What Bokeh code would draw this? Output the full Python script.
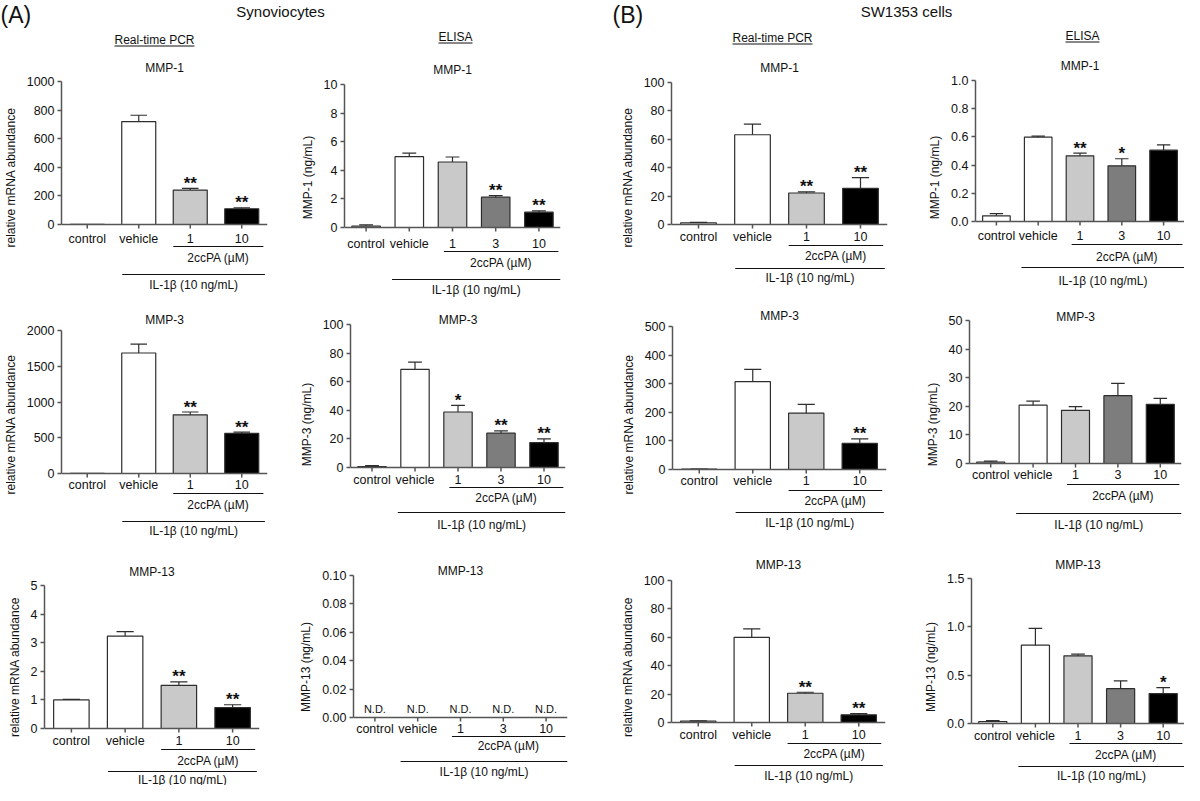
import numpy as np
from bokeh.plotting import figure
from bokeh.layouts import column, row
from bokeh.models import Range1d, FixedTicker, PrintfTickFormatter, ColumnDataSource
from bokeh.core.properties import value
from bokeh.embed import file_html
from bokeh.resources import INLINE

# ---------------- data ----------------
pcr_categories = ["control", "vehicle", "1", "10"]
elisa_categories = ["control", "vehicle", "1", "3", "10"]

# Synoviocytes, real-time PCR (relative mRNA abundance)
syn_pcr_mmp1_mean = [1, 720, 241, 110]
syn_pcr_mmp1_err = [0, 44, 11, 7]
syn_pcr_mmp1_sig = ["", "", "**", "**"]
syn_pcr_mmp3_mean = [1, 1685, 820, 562]
syn_pcr_mmp3_err = [0, 125, 40, 18]
syn_pcr_mmp3_sig = ["", "", "**", "**"]
syn_pcr_mmp13_mean = [1.0, 3.23, 1.51, 0.73]
syn_pcr_mmp13_err = [0.02, 0.16, 0.12, 0.10]
syn_pcr_mmp13_sig = ["", "", "**", "**"]

# Synoviocytes, ELISA (ng/mL)
syn_elisa_mmp1_mean = [0.1, 4.95, 4.58, 2.12, 1.07]
syn_elisa_mmp1_err = [0.08, 0.25, 0.35, 0.11, 0.09]
syn_elisa_mmp1_sig = ["", "", "", "**", "**"]
syn_elisa_mmp3_mean = [0.7, 68.6, 38.8, 24.0, 17.4]
syn_elisa_mmp3_err = [0.6, 5.1, 4.7, 1.6, 2.6]
syn_elisa_mmp3_sig = ["", "", "*", "**", "**"]
syn_elisa_mmp13_mean = [np.nan, np.nan, np.nan, np.nan, np.nan]
syn_elisa_mmp13_err = [np.nan, np.nan, np.nan, np.nan, np.nan]
syn_elisa_mmp13_sig = ["", "", "", "", ""]
syn_elisa_mmp13_note = ["N.D.", "N.D.", "N.D.", "N.D.", "N.D."]

# SW1353 cells, real-time PCR
sw_pcr_mmp1_mean = [1.2, 63.2, 22.2, 25.5]
sw_pcr_mmp1_err = [0.3, 7.5, 0.8, 7.5]
sw_pcr_mmp1_sig = ["", "", "**", "**"]
sw_pcr_mmp3_mean = [1, 307, 197, 91]
sw_pcr_mmp3_err = [0.5, 43, 31, 16]
sw_pcr_mmp3_sig = ["", "", "", "**"]
sw_pcr_mmp13_mean = [1, 60, 20.6, 5.4]
sw_pcr_mmp13_err = [0.2, 6, 0.7, 0.9]
sw_pcr_mmp13_sig = ["", "", "**", "**"]

# SW1353 cells, ELISA
sw_elisa_mmp1_mean = [0.04, 0.598, 0.466, 0.395, 0.506]
sw_elisa_mmp1_err = [0.016, 0.007, 0.019, 0.05, 0.038]
sw_elisa_mmp1_sig = ["", "", "**", "*", ""]
sw_elisa_mmp3_mean = [0.5, 20.4, 18.6, 23.7, 20.7]
sw_elisa_mmp3_err = [0.3, 1.4, 1.3, 4.3, 2.1]
sw_elisa_mmp3_sig = ["", "", "", "", ""]
sw_elisa_mmp13_mean = [0.02, 0.81, 0.70, 0.36, 0.31]
sw_elisa_mmp13_err = [0.01, 0.175, 0.017, 0.08, 0.062]
sw_elisa_mmp13_sig = ["", "", "", "", "*"]

# y tick labels
ticks_syn_pcr_mmp1 = [0, 200, 400, 600, 800, 1000]
ticks_syn_pcr_mmp3 = [0, 500, 1000, 1500, 2000]
ticks_syn_pcr_mmp13 = [0, 1, 2, 3, 4, 5]
ticks_syn_elisa_mmp1 = [0, 2, 4, 6, 8, 10]
ticks_syn_elisa_mmp3 = [0, 20, 40, 60, 80, 100]
ticks_syn_elisa_mmp13 = [0, 0.02, 0.04, 0.06, 0.08, 0.10]
ticks_sw_pcr_mmp1 = [0, 20, 40, 60, 80, 100]
ticks_sw_pcr_mmp3 = [0, 100, 200, 300, 400, 500]
ticks_sw_pcr_mmp13 = [0, 20, 40, 60, 80, 100]
ticks_sw_elisa_mmp1 = [0, 0.2, 0.4, 0.6, 0.8, 1.0]
ticks_sw_elisa_mmp3 = [0, 10, 20, 30, 40, 50]
ticks_sw_elisa_mmp13 = [0, 0.5, 1.0, 1.5]

panel_letters = ["(A)", "(B)"]
cell_types = ["Synoviocytes", "SW1353 cells"]
methods = ["Real-time PCR", "ELISA"]
drug_label = "2ccPA (µM)"
stim_label = "IL-1β (10 ng/mL)"

# ---------------- style / layout ----------------
FONT = "Liberation Sans"
INK = "#111111"
AX = "#555555"
EDGE = "#2e2e2e"
BAR_COLORS = {"control": "#ffffff", "vehicle": "#ffffff", "1": "#c9c9c9",
              "3": "#7d7d7d", "10": "#000000"}
GROUP_OFF = {"pcr": ((-0.33, 0.42), (-0.32, 0.45)),
             "elisa": ((-0.2, 0.45), (-0.4, 0.5))}

COLS = [(8, 300), (300, 600), (600, 900), (900, 1192)]
ROWS = [(62, 308), (308, 556), (556, 793)]

G = {
    "A1r1": dict(axis=61, end=275, ytop=89, y0=232, title=75, tick=246, l2=254, t2=265, l3=282, t3=292),
    "A1r2": dict(axis=60, end=275, ytop=338, y0=481, title=327, tick=492, l2=501, t2=512, l3=529, t3=538),
    "A1r3": dict(axis=52, end=267, ytop=593, y0=736, title=579, tick=748, l2=757, t2=768, l3=779, t3=787),
    "A2r1": dict(axis=352, end=568, ytop=92, y0=235, title=77, tick=251, l2=259, t2=270, l3=287, t3=297),
    "A2r2": dict(axis=358, end=573, ytop=332, y0=475, title=327, tick=487, l2=495, t2=505, l3=520, t3=532),
    "A2r3": dict(axis=361, end=575, ytop=583, y0=725, title=578, tick=736, l2=744, t2=753, l3=769, t3=779),
    "B1r1": dict(axis=679, end=895, ytop=90, y0=232, title=75, tick=244, l2=253, t2=263, l3=276, t3=285),
    "B1r2": dict(axis=680, end=894, ytop=334, y0=477, title=323, tick=488, l2=498, t2=508, l3=520, t3=530),
    "B1r3": dict(axis=679, end=893, ytop=588, y0=730, title=572, tick=742, l2=751, t2=761, l3=773, t3=783),
    "B2r1": dict(axis=983, end=1197, ytop=88, y0=229, title=73, tick=243, l2=252, t2=264, l3=275, t3=288),
    "B2r2": dict(axis=977, end=1189, ytop=328, y0=471, title=324, tick=482, l2=492, t2=503, l3=521, t3=532),
    "B2r3": dict(axis=979, end=1198, ytop=586, y0=731, title=572, tick=743, l2=751, t2=762, l3=774, t3=783),
}


def panel(col, rw, g, cats, means, errs, sig, title, ylabel, ticks, fmt, kind, note=None):
    fig_l, fig_r = COLS[col]
    row_t, row_b = ROWS[rw]
    n = len(cats)
    V = ticks[-1]
    axis_x, axis_end = g["axis"], min(g["end"], fig_r)
    ytop, y0 = g["ytop"], g["y0"]
    upp = V / (y0 - ytop)

    def below(d):
        return -d * upp

    p = figure(width=fig_r - fig_l, height=row_b - row_t, title=None,
               x_range=Range1d(0, n),
               y_range=Range1d(below(row_b - y0), V + (ytop - row_t) * upp),
               output_backend="svg", toolbar_location=None, tools="",
               x_axis_location=None, y_axis_location="left",
               min_border_left=axis_x - fig_l, min_border_right=fig_r - axis_end,
               min_border_top=0, min_border_bottom=0)
    p.xgrid.visible = False
    p.ygrid.visible = False
    p.outline_line_color = None
    p.background_fill_color = "white"
    p.border_fill_color = "white"

    ax = p.yaxis[0]
    ax.bounds = (0, V)
    ax.ticker = FixedTicker(ticks=ticks)
    ax.formatter = PrintfTickFormatter(format=fmt)
    ax.axis_label = ylabel
    ax.axis_label_text_font = FONT
    ax.axis_label_text_font_size = "12px"
    ax.axis_label_text_font_style = "normal"
    ax.axis_label_text_color = INK
    ax.axis_label_standoff = 6
    ax.major_label_text_font = FONT
    ax.major_label_text_font_size = "12.5px"
    ax.major_label_text_color = INK
    ax.major_label_standoff = 3
    ax.major_tick_out = 4
    ax.major_tick_in = 0
    ax.minor_tick_line_color = None
    ax.axis_line_color = AX
    ax.axis_line_width = 1.5
    ax.major_tick_line_color = AX
    ax.major_tick_line_width = 1.5

    xs = np.arange(n) + 0.5
    m = np.array(means, dtype=float)
    e = np.array(errs, dtype=float)
    src = ColumnDataSource(dict(x=xs, top=m, fill=[BAR_COLORS[c] for c in cats]))
    p.vbar(x="x", top="top", bottom=0, width=0.66, fill_color="fill",
           line_color=EDGE, line_width=1.2, source=src)

    ok = ~np.isnan(m) & ~np.isnan(e) & (e > 0)
    hi = m + np.nan_to_num(e)
    p.segment(x0=xs[ok], y0=m[ok], x1=xs[ok], y1=hi[ok], line_color=EDGE, line_width=1.2)
    p.segment(x0=xs[ok] - 0.16, y0=hi[ok], x1=xs[ok] + 0.16, y1=hi[ok],
              line_color=EDGE, line_width=1.2)

    # x axis line and ticks
    p.segment(x0=[0], y0=[0], x1=[n], y1=[0], line_color=AX, line_width=1.5)
    p.segment(x0=xs, y0=np.zeros(n), x1=xs, y1=np.full(n, below(4)), line_color=AX, line_width=1.5)

    def txt(x, y, t, yoff, size="12px", baseline="middle", style="normal"):
        p.text(x=list(x), y=list(y), text=list(t), y_offset=yoff,
               text_font=value(FONT), text_font_size=size, text_align="center",
               text_baseline=baseline, text_color=INK, text_font_style=style)

    txt(xs, np.zeros(n), cats, g["tick"] - y0, size="12.5px")
    txt([n / 2], [V], [title], g["title"] - ytop)

    (a0, a1), (b0, b1) = GROUP_OFF[kind]
    i1 = cats.index("1")
    x0, x1 = xs[i1] + a0, min(xs[-1] + a1, n)
    yl = below(g["l2"] - y0)
    p.segment(x0=[x0], y0=[yl], x1=[x1], y1=[yl], line_color=INK, line_width=1.2)
    txt([(x0 + x1) / 2], [0], [drug_label], g["t2"] - y0)
    x0, x1 = xs[1] + b0, min(xs[-1] + b1, n)
    yl = below(g["l3"] - y0)
    p.segment(x0=[x0], y0=[yl], x1=[x1], y1=[yl], line_color=INK, line_width=1.2)
    txt([(x0 + x1) / 2], [0], [stim_label], g["t3"] - y0)

    for i, s in enumerate(sig):
        if s:
            txt([xs[i]], [hi[i]], [s], -5, size="17px", baseline="middle", style="bold")
    if note:
        txt(xs, np.zeros(n), note, -9, size="11px")
    return p


pcr_lab = "relative mRNA abundance"
r1 = [
    panel(0, 0, G["A1r1"], pcr_categories, syn_pcr_mmp1_mean, syn_pcr_mmp1_err, syn_pcr_mmp1_sig,
          "MMP-1", pcr_lab, ticks_syn_pcr_mmp1, "%d", "pcr"),
    panel(1, 0, G["A2r1"], elisa_categories, syn_elisa_mmp1_mean, syn_elisa_mmp1_err, syn_elisa_mmp1_sig,
          "MMP-1", "MMP-1 (ng/mL)", ticks_syn_elisa_mmp1, "%d", "elisa"),
    panel(2, 0, G["B1r1"], pcr_categories, sw_pcr_mmp1_mean, sw_pcr_mmp1_err, sw_pcr_mmp1_sig,
          "MMP-1", pcr_lab, ticks_sw_pcr_mmp1, "%d", "pcr"),
    panel(3, 0, G["B2r1"], elisa_categories, sw_elisa_mmp1_mean, sw_elisa_mmp1_err, sw_elisa_mmp1_sig,
          "MMP-1", "MMP-1 (ng/mL)", ticks_sw_elisa_mmp1, "%.1f", "elisa"),
]
r2 = [
    panel(0, 1, G["A1r2"], pcr_categories, syn_pcr_mmp3_mean, syn_pcr_mmp3_err, syn_pcr_mmp3_sig,
          "MMP-3", pcr_lab, ticks_syn_pcr_mmp3, "%d", "pcr"),
    panel(1, 1, G["A2r2"], elisa_categories, syn_elisa_mmp3_mean, syn_elisa_mmp3_err, syn_elisa_mmp3_sig,
          "MMP-3", "MMP-3 (ng/mL)", ticks_syn_elisa_mmp3, "%d", "elisa"),
    panel(2, 1, G["B1r2"], pcr_categories, sw_pcr_mmp3_mean, sw_pcr_mmp3_err, sw_pcr_mmp3_sig,
          "MMP-3", pcr_lab, ticks_sw_pcr_mmp3, "%d", "pcr"),
    panel(3, 1, G["B2r2"], elisa_categories, sw_elisa_mmp3_mean, sw_elisa_mmp3_err, sw_elisa_mmp3_sig,
          "MMP-3", "MMP-3 (ng/mL)", ticks_sw_elisa_mmp3, "%d", "elisa"),
]
r3 = [
    panel(0, 2, G["A1r3"], pcr_categories, syn_pcr_mmp13_mean, syn_pcr_mmp13_err, syn_pcr_mmp13_sig,
          "MMP-13", pcr_lab, ticks_syn_pcr_mmp13, "%d", "pcr"),
    panel(1, 2, G["A2r3"], elisa_categories, syn_elisa_mmp13_mean, syn_elisa_mmp13_err, syn_elisa_mmp13_sig,
          "MMP-13", "MMP-13 (ng/mL)", ticks_syn_elisa_mmp13, "%.2f", "elisa", note=syn_elisa_mmp13_note),
    panel(2, 2, G["B1r3"], pcr_categories, sw_pcr_mmp13_mean, sw_pcr_mmp13_err, sw_pcr_mmp13_sig,
          "MMP-13", pcr_lab, ticks_sw_pcr_mmp13, "%d", "pcr"),
    panel(3, 2, G["B2r3"], elisa_categories, sw_elisa_mmp13_mean, sw_elisa_mmp13_err, sw_elisa_mmp13_sig,
          "MMP-13", "MMP-13 (ng/mL)", ticks_sw_elisa_mmp13, "%.1f", "elisa"),
]

# ---------------- header strip (page pixel coordinates) ----------------
h = figure(width=1184, height=ROWS[0][0] - 8, title=None,
           x_range=Range1d(8, 1192), y_range=Range1d(ROWS[0][0], 8),
           output_backend="svg", toolbar_location=None, tools="",
           x_axis_location=None, y_axis_location=None,
           min_border_left=0, min_border_right=0, min_border_top=0, min_border_bottom=0)
h.xgrid.visible = False
h.ygrid.visible = False
h.outline_line_color = None


def htxt(x, y, t, size, align="center"):
    h.text(x=[x], y=[y], text=[t], text_font=value(FONT), text_font_size=size,
           text_align=align, text_baseline="middle", text_color=INK)


htxt(8, 22, panel_letters[0], "23px", "left")
htxt(620, 22, panel_letters[1], "23px", "left")
htxt(288, 19, cell_types[0], "15px")
htxt(914, 19, cell_types[1], "15px")
for cx, cy, t, w in [(162, 47, methods[0], 80), (463, 44, methods[1], 34),
                     (780, 45, methods[0], 80), (1090, 43, methods[1], 34)]:
    htxt(cx, cy, t, "12px")
    h.segment(x0=[cx - w / 2], y0=[cy + 6.5], x1=[cx + w / 2], y1=[cy + 6.5], line_color=INK, line_width=1)

layout = column(h, row(*r1), row(*r2), row(*r3))
open("out.html", "w").write(file_html(layout, INLINE, "MMP figure"))
